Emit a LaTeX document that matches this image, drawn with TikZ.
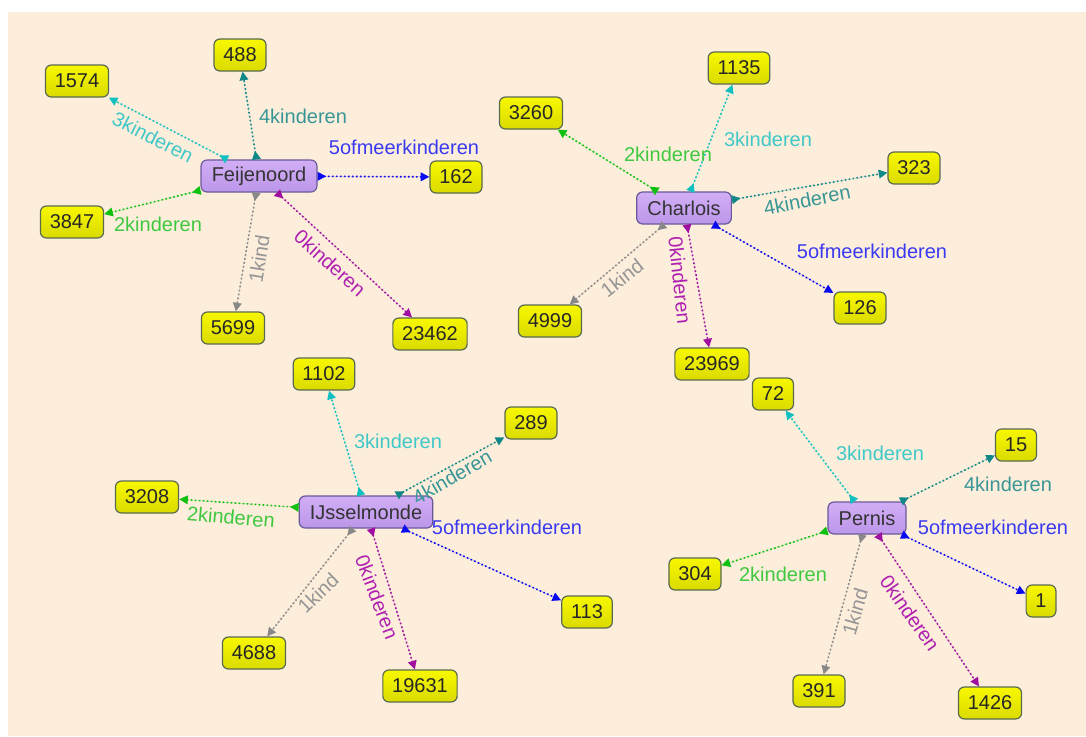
\documentclass[tikz,border=0pt]{standalone}
\usepackage{fontspec}
\setmainfont{Liberation Sans}
\usetikzlibrary{arrows.meta}
\definecolor{bgpeach}{HTML}{FDEEDB}
\definecolor{cz}{HTML}{A010A0}
\definecolor{ca}{HTML}{888888}
\definecolor{cb}{HTML}{10C010}
\definecolor{cc}{HTML}{10C0C0}
\definecolor{cd}{HTML}{108888}
\definecolor{ce}{HTML}{0A0AF0}
\definecolor{lz}{HTML}{B020B0}
\definecolor{la}{HTML}{959595}
\definecolor{lb}{HTML}{40C840}
\definecolor{lc}{HTML}{40C8C8}
\definecolor{ld}{HTML}{3A9696}
\definecolor{le}{HTML}{3A3AF0}
\definecolor{leafborder}{HTML}{5A6A50}
\definecolor{leaftop}{HTML}{F8F800}
\definecolor{leafbot}{HTML}{DADA00}
\definecolor{hubtop}{HTML}{D2AEF6}
\definecolor{hubbot}{HTML}{BC96EA}
\definecolor{hubborder}{HTML}{6A5A9A}
\begin{document}
\begin{tikzpicture}[x=0.75pt,y=-0.75pt,
  txt/.style={font=\fontsize{15}{18}\selectfont},
  leaf/.style={txt, rounded corners=4.5pt, draw=leafborder, line width=0.9pt,
    top color=leaftop, bottom color=leafbot, minimum height=24pt,
    inner xsep=7pt, inner ysep=0pt, text=black!85},
  hub/.style={txt, rounded corners=4.5pt, draw=hubborder, line width=0.9pt,
    top color=hubtop, bottom color=hubbot, minimum height=24pt,
    inner xsep=8pt, inner ysep=0pt, text=black!80},
  lbl/.style={txt, inner sep=0pt},
  con/.style={line width=1.2pt, dash pattern=on 1.2pt off 1.8pt,
    {Triangle[reversed,length=6.5pt,width=6.5pt]}-{Triangle[length=6.5pt,width=6.5pt]}},
  k0/.style={con, draw=cz, fill=cz},
  k1/.style={con, draw=ca, fill=ca},
  k2/.style={con, draw=cb, fill=cb},
  k3/.style={con, draw=cc, fill=cc},
  k4/.style={con, draw=cd, fill=cd},
  k5/.style={con, draw=ce, fill=ce}]
\fill[white] (0,0) rectangle (1086,736);
\fill[bgpeach] (8,12) rectangle (1086,736);
\useasboundingbox (0,0) rectangle (1086,736);

% ---------------- Feijenoord ----------------
\node[hub] (fh) at (259,176) {Feijenoord};
\node[leaf] (f4) at (240,55) {488};
\node[leaf] (f3) at (77,81) {1574};
\node[leaf] (f5) at (456,177) {162};
\node[leaf] (f2) at (72,222) {3847};
\node[leaf] (f1) at (233,328) {5699};
\node[leaf] (f0) at (430,334) {23462};
\draw[k3] (fh) -- (f3);
\draw[k4] (fh) -- (f4);
\draw[k5] (fh) -- (f5);
\draw[k2] (fh) -- (f2);
\draw[k1] (fh) -- (f1);
\draw[k0] (fh) -- (f0);
\node[lbl, text=lc, rotate=-27] (fl3) at (153,137) {3kinderen};
\node[lbl, text=ld] (fl4) at (303,116) {4kinderen};
\node[lbl, text=le] (fl5) at (404,147) {5ofmeerkinderen};
\node[lbl, text=lb] (fl2) at (158,224) {2kinderen};
\node[lbl, text=la, rotate=81] (fl1) at (259,259) {1kind};
\node[lbl, text=lz, rotate=-42] (fl0) at (330,263) {0kinderen};

% ---------------- Charlois ----------------
\node[hub] (ch) at (684,208) {Charlois};
\node[leaf] (c3) at (739,68) {1135};
\node[leaf] (c2) at (531,113) {3260};
\node[leaf] (c4) at (914,168) {323};
\node[leaf] (c1) at (550,321) {4999};
\node[leaf] (c5) at (860,308) {126};
\node[leaf] (c0) at (712,364) {23969};
\draw[k2] (ch) -- (c2);
\draw[k3] (ch) -- (c3);
\draw[k4] (ch) -- (c4);
\draw[k5] (ch) -- (c5);
\draw[k1] (ch) -- (c1);
\draw[k0] (ch) -- (c0);
\node[lbl, text=lb] (cl2) at (668,154) {2kinderen};
\node[lbl, text=lc] (cl3) at (768,139) {3kinderen};
\node[lbl, text=ld, rotate=11] (cl4) at (807,200) {4kinderen};
\node[lbl, text=le] (cl5) at (872,251) {5ofmeerkinderen};
\node[lbl, text=la, rotate=38] (cl1) at (622,278) {1kind};
\node[lbl, text=lz, rotate=-84] (cl0) at (680,280) {0kinderen};

% ---------------- IJsselmonde ----------------
\node[hub] (ih) at (366,512) {IJsselmonde};
\node[leaf] (i3) at (324,374) {1102};
\node[leaf] (i4) at (531,423) {289};
\node[leaf] (i2) at (147,497) {3208};
\node[leaf] (i5) at (587,612) {113};
\node[leaf] (i1) at (254,653) {4688};
\node[leaf] (i0) at (420,686) {19631};
\draw[k3] (ih) -- (i3);
\draw[k4] (ih) -- (i4);
\draw[k2] (ih) -- (i2);
\draw[k5] (ih) -- (i5);
\draw[k1] (ih) -- (i1);
\draw[k0] (ih) -- (i0);
\node[lbl, text=lc] (il3) at (398,441) {3kinderen};
\node[lbl, text=ld, rotate=30] (il4) at (452,477) {4kinderen};
\node[lbl, text=lb, rotate=-5] (il2) at (231,517) {2kinderen};
\node[lbl, text=le] (il5) at (507,527) {5ofmeerkinderen};
\node[lbl, text=la, rotate=44] (il1) at (318,593) {1kind};
\node[lbl, text=lz, rotate=-69] (il0) at (377,597) {0kinderen};

% ---------------- Pernis ----------------
\node[hub] (ph) at (867,518) {Pernis};
\node[leaf] (p3) at (773,394) {72};
\node[leaf] (p4) at (1016,445) {15};
\node[leaf] (p2) at (695,574) {304};
\node[leaf] (p5) at (1041,601) {1};
\node[leaf] (p1) at (819,691) {391};
\node[leaf] (p0) at (990,703) {1426};
\draw[k3] (ph) -- (p3);
\draw[k4] (ph) -- (p4);
\draw[k2] (ph) -- (p2);
\draw[k5] (ph) -- (p5);
\draw[k1] (ph) -- (p1);
\draw[k0] (ph) -- (p0);
\node[lbl, text=lc] (pl3) at (880,453) {3kinderen};
\node[lbl, text=ld] (pl4) at (1008,484) {4kinderen};
\node[lbl, text=le] (pl5) at (993,527) {5ofmeerkinderen};
\node[lbl, text=lb] (pl2) at (783,574) {2kinderen};
\node[lbl, text=la, rotate=74] (pl1) at (855,612) {1kind};
\node[lbl, text=lz, rotate=-55] (pl0) at (910,613) {0kinderen};
\end{tikzpicture}
\end{document}
